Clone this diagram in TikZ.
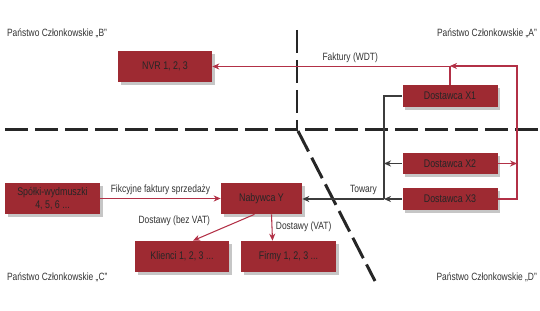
\documentclass[tikz,border=0pt]{standalone}
\usepackage{fontspec}
\setmainfont[FakeStretch=0.8]{Liberation Sans}
\usepackage{tikz}
\usetikzlibrary{arrows.meta,positioning,calc,shadows}
\usepackage{xcolor}
\definecolor{boxred}{RGB}{158,42,50}
\definecolor{linered}{RGB}{178,48,70}
\definecolor{linegray}{RGB}{60,60,60}
\definecolor{txtgray}{RGB}{50,50,50}

\begin{document}
\begin{tikzpicture}[>={Stealth[length=4pt,width=3.5pt]},
  box/.style={fill=boxred,minimum width=1.9cm,minimum height=0.62cm,align=center,
    font=\fontsize{6.3}{7.5}\selectfont,text=black!85,inner sep=1pt,
    drop shadow={shadow xshift=1.5pt,shadow yshift=-1.5pt,opacity=0.45}},
  lbl/.style={font=\fontsize{6}{7}\selectfont,text=txtgray,inner sep=1pt},
  border/.style={line width=1.7pt,dash pattern=on 0.46cm off 0.14cm,black!85},
  red/.style={linered,line width=0.6pt},
  gry/.style={linegray,line width=0.6pt}]
\useasboundingbox (0,0) rectangle (10.8,-6.22);
% borders between the states
\draw[border] (0.1,-2.59) -- (10.8,-2.59);
\draw[border] (5.94,-0.6) -- (5.94,-2.56);
\draw[border] (5.96,-2.62) -- (7.5,-5.62);
% state names
\node[lbl,anchor=west] (pb) at (0.1,-0.66) {Państwo Członkowskie „B”};
\node[lbl,anchor=east] (pa) at (10.78,-0.66) {Państwo Członkowskie „A”};
\node[lbl,anchor=west] (pc) at (0.1,-5.54) {Państwo Członkowskie „C”};
\node[lbl,anchor=east] (pd) at (10.78,-5.54) {Państwo Członkowskie „D”};
% companies
\node[box,minimum width=1.88cm] (nvr) at (3.30,-1.33) {NVR 1, 2, 3};
\node[box,minimum height=0.44cm] (x1) at (9.0,-1.92) {Dostawca X1};
\node[box,minimum height=0.42cm] (x2) at (9.0,-3.27) {Dostawca X2};
\node[box,minimum height=0.44cm] (x3) at (9.0,-3.98) {Dostawca X3};
\node[box] (spw) at (1.05,-3.97) {Spółki-wydmuszki\\4, 5, 6 ...};
\node[box,minimum width=1.62cm] (nab) at (5.23,-3.97) {Nabywca Y};
\node[box,minimum width=1.88cm] (kli) at (3.64,-5.13) {Klienci 1, 2, 3 ...};
\node[box] (fir) at (5.77,-5.13) {Firmy 1, 2, 3 ...};
% invoices (WDT)
\coordinate (rt) at (10.34,-1.32);
\draw[red,->] (x3.east) -| (rt) -- (x1.north |- rt);
\draw[red,->] (x2.east) -- (x2.east -| rt);
\draw[red,->] (x1.north) |- (nvr.east)
    node[pos=0.71,above,lbl,yshift=1pt] {Faktury (WDT)};
% goods
\coordinate (gj) at (7.68,-3.98);
\draw[gry] (x1.west) -| (gj);
\draw[gry,->] (x2.west) -- (x2.west -| gj);
\draw[gry,->] (x3.west) -- (gj);
\draw[gry,->] (gj) -- (nab.east |- gj) node[pos=0.25,above,lbl,yshift=1pt] {Towary};
% fictitious invoices and deliveries
\draw[red,->] (spw.east) -- (nab.west) node[midway,above,lbl,yshift=1pt] {Fikcyjne faktury sprzedaży};
\draw[red,->] ($(nab.south)+(-0.14,0)$) -- ($(kli.north)+(0.22,0)$)
    node[midway,anchor=south east,lbl,xshift=-0.23cm] {Dostawy (bez VAT)};
\draw[red,->] ($(nab.south)+(0.2,0)$) -- ($(fir.north)+(-0.32,0)$)
    node[pos=0.4,right,lbl,xshift=1pt,yshift=-1pt] {Dostawy (VAT)};
\end{tikzpicture}
\end{document}
